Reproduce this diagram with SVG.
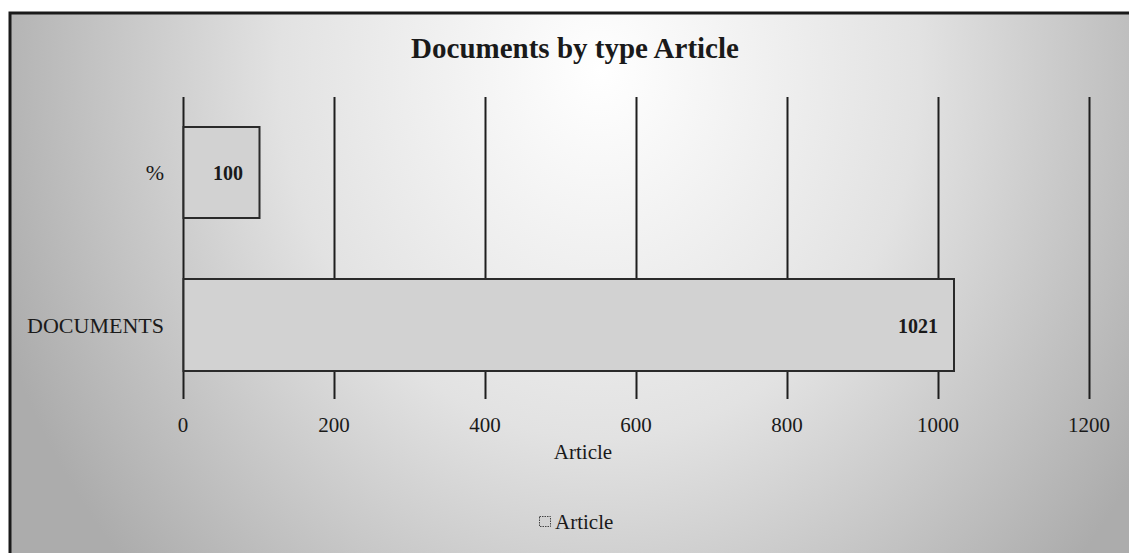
<svg xmlns="http://www.w3.org/2000/svg" width="1129" height="553" viewBox="0 0 1129 553">
  <defs>
    <radialGradient id="bg" gradientUnits="userSpaceOnUse" cx="600" cy="70" r="640" gradientTransform="translate(600 70) scale(1 1.15) translate(-600 -70)">
      <stop offset="0" stop-color="#ffffff"/>
      <stop offset="0.5" stop-color="#e2e2e2"/>
      <stop offset="1" stop-color="#acacac"/>
    </radialGradient>
  </defs>
  <style>
    .grid { stroke: #1e1e1e; stroke-width: 2; }
    .bar { fill: #d2d2d2; stroke: #2a2a2a; stroke-width: 2; }
    .t { font-family: "Liberation Serif", "Times New Roman", serif; fill: #1a1a1a; }
    .tick { font-size: 21px; text-anchor: middle; }
    .cat { font-size: 22px; }
    .val { font-size: 20px; font-weight: bold; }
  </style>

  <!-- chart area frame -->
  <rect x="10" y="13" width="1125" height="550" fill="url(#bg)" stroke="#1a1a1a" stroke-width="3"/>

  <text class="t" x="575" y="58" font-size="29" font-weight="bold" text-anchor="middle">Documents by type Article</text>

  <!-- vertical gridlines -->
  <g id="connectors">
    <line class="grid" x1="183.5" y1="97" x2="183.5" y2="399"/>
    <line class="grid" x1="334.5" y1="97" x2="334.5" y2="399"/>
    <line class="grid" x1="485.5" y1="97" x2="485.5" y2="399"/>
    <line class="grid" x1="636.5" y1="97" x2="636.5" y2="399"/>
    <line class="grid" x1="787.5" y1="97" x2="787.5" y2="399"/>
    <line class="grid" x1="938.5" y1="97" x2="938.5" y2="399"/>
    <line class="grid" x1="1089.5" y1="97" x2="1089.5" y2="399"/>
  </g>

  <!-- bars -->
  <g id="bar-percent">
    <rect class="bar" x="183.5" y="127" width="76" height="91"/>
    <text class="t val" x="228" y="180" text-anchor="middle">100</text>
    <text class="t cat" x="155" y="180" text-anchor="middle">%</text>
  </g>
  <g id="bar-documents">
    <rect class="bar" x="183.5" y="279" width="770.5" height="92"/>
    <text class="t val" x="938" y="333" text-anchor="end">1021</text>
    <text class="t cat" x="164" y="333" text-anchor="end">DOCUMENTS</text>
  </g>

  <!-- axis labels -->
  <g id="axis">
    <text class="t tick" x="183" y="432">0</text>
    <text class="t tick" x="334" y="432">200</text>
    <text class="t tick" x="485" y="432">400</text>
    <text class="t tick" x="636" y="432">600</text>
    <text class="t tick" x="787" y="432">800</text>
    <text class="t tick" x="938" y="432">1000</text>
    <text class="t tick" x="1089" y="432">1200</text>
    <text class="t tick" x="583" y="459">Article</text>
  </g>

  <!-- legend -->
  <g id="legend">
    <rect x="539.5" y="516.5" width="11" height="10" fill="#d2d2d2" stroke="#444" stroke-width="1" stroke-dasharray="1.5 1"/>
    <text class="t" x="555" y="529" font-size="21">Article</text>
  </g>
</svg>
